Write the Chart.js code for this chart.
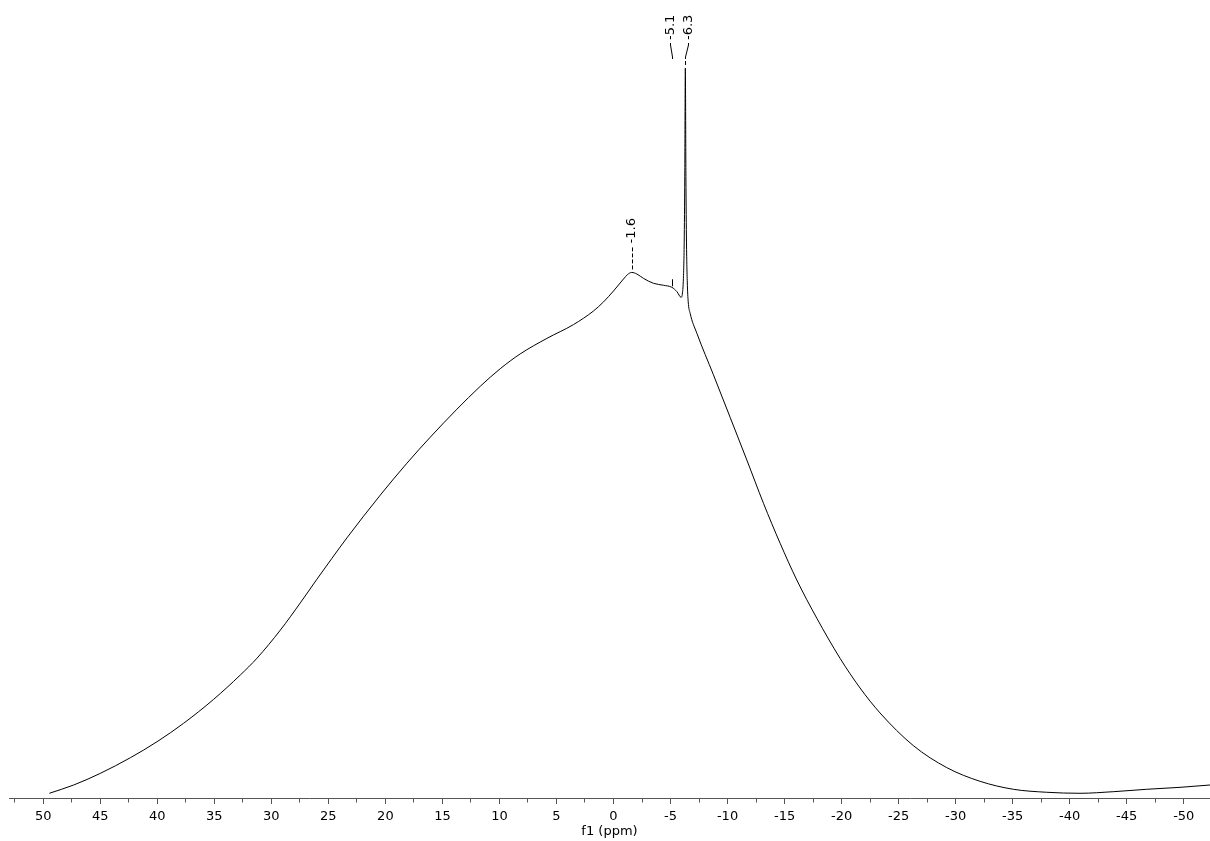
<!DOCTYPE html>
<html>
<head>
<meta charset="utf-8">
<title>f1 (ppm)</title>
<script src="https://cdn.jsdelivr.net/npm/chart.js@4.4.1/dist/chart.umd.min.js"></script>
<style>
  html, body { margin: 0; padding: 0; background: #ffffff; }
  #wrap { width: 1210px; height: 841px; }
</style>
</head>
<body>
<div id="wrap"><canvas id="spectrum" width="1210" height="841"></canvas></div>
<script>
/************************************ Spectrum data ************************************/
// chemical shift in ppm (left to right on the plot)
var shiftPpm = [
  49.46, 47.33, 44.99, 42.36, 40.02, 37.69, 35.06, 32.72, 31.25, 29.21,
  27.46, 26.0, 24.68, 23.37, 20.45, 18.11, 16.06, 13.72, 11.68, 9.93,
  8.18, 5.84, 3.51, 1.75, 0.88, 0.0, -0.88, -1.25, -1.6, -2.05,
  -2.63, -3.51, -4.38, -5.12, -5.56, -5.93, -6.05, -6.13, -6.2, -6.25,
  -6.3, -6.35, -6.4, -6.47, -6.55, -6.72, -7.31, -8.76, -10.23, -11.69,
  -13.15, -14.61, -16.07, -17.83, -19.87, -21.62, -23.37, -26.29, -29.22, -32.14,
  -35.06, -37.98, -40.9, -43.82, -46.75, -49.67, -52.3
];
// intensity (arbitrary units, tallest peak = 100)
var intensity = [
  0.03, 1.17, 2.78, 4.93, 7.14, 9.68, 12.98, 16.33, 18.66, 22.52,
  26.27, 29.54, 32.43, 35.24, 41.12, 45.53, 49.12, 52.98, 56.13, 58.55,
  60.59, 62.73, 64.63, 66.51, 67.75, 69.26, 70.92, 71.55, 71.82, 71.6,
  71.0, 70.32, 70.05, 69.77, 69.17, 68.39, 69.0, 71.0, 76.0, 85.0,
  100, 85.0, 76.0, 70.5, 67.8, 66.19, 63.43, 57.72, 51.84, 45.97,
  40.0, 34.49, 29.43, 24.15, 18.62, 14.54, 11.1, 6.6, 3.57, 1.68,
  0.58, 0.17, 0.03, 0.25, 0.58, 0.85, 1.17
];
// picked peaks
var peakShift = [-1.6, -5.1, -6.3];
var peakText = ["-1.6", "-5.1", "-6.3"];
// axis ticks (labelled and unlabelled)
var majorTicks = [50, 45, 40, 35, 30, 25, 20, 15, 10, 5, 0, -5, -10, -15, -20, -25, -30, -35, -40, -45, -50];
var minorTicks = [52.5, 47.5, 42.5, 37.5, 32.5, 27.5, 22.5, 17.5, 12.5, 7.5, 2.5, -2.5, -7.5, -12.5, -17.5, -22.5, -27.5, -32.5, -37.5, -42.5, -47.5];

var points = [];
for (var i = 0; i < shiftPpm.length; i++) {
  points.push({ x: shiftPpm[i], y: intensity[i] });
}

function isMajor(v) {
  return majorTicks.indexOf(v) >= 0;
}

// linear lookup of the curve height at a shift
function curveAt(ppm) {
  for (var i = 0; i < shiftPpm.length - 1; i++) {
    var a = shiftPpm[i], b = shiftPpm[i + 1];
    if (ppm <= a && ppm >= b) {
      var t = (a - ppm) / (a - b);
      return intensity[i] + t * (intensity[i + 1] - intensity[i]);
    }
  }
  return 0;
}

/************************************ Peak label plugin ************************************/
// dx: shift of the text from the peak, top: label sits in the top row with the tallest peak
var labelLook = [
  { dx: -1.5, top: false, tick: false },
  { dx: -2.5, top: true, tick: true },
  { dx: 2, top: true, tick: false },
];

var peakLabels = {
  id: "peakLabels",
  afterDatasetsDraw: function (chart) {
    var ctx = chart.ctx;
    var xs = chart.scales.x;
    var ys = chart.scales.y;
    var topY = ys.getPixelForValue(Math.max.apply(null, intensity)) - 28;

    ctx.save();
    ctx.strokeStyle = "#000";
    ctx.fillStyle = "#000";
    ctx.lineWidth = 1;
    ctx.font = "13px 'DejaVu Sans'";
    for (var i = 0; i < peakShift.length; i++) {
      var look = labelLook[i];
      var px = Math.round(xs.getPixelForValue(peakShift[i])) + 0.5;
      var py = ys.getPixelForValue(curveAt(peakShift[i]));
      var baseY = look.top ? topY : py - 29;
      var lx = Math.round(px + look.dx) + 0.5;

      // rotated text, reading upward
      ctx.save();
      ctx.translate(lx + 0.5, baseY);
      ctx.rotate(-Math.PI / 2);
      ctx.textAlign = "left";
      ctx.textBaseline = "middle";
      ctx.fillText(peakText[i], 0, 0);
      ctx.restore();

      if (look.top) {
        // bent leader from the label down to the peak position
        ctx.setLineDash([]);
        ctx.beginPath();
        ctx.moveTo(lx, baseY + 3);
        ctx.lineTo(lx, baseY + 5);
        ctx.lineTo(px, baseY + 17);
        ctx.lineTo(px, baseY + 19);
        ctx.stroke();
        if (look.tick) {
          ctx.beginPath();
          ctx.moveTo(px, py - 8);
          ctx.lineTo(px, py - 1);
          ctx.stroke();
        } else {
          ctx.setLineDash([4, 2]);
          ctx.beginPath();
          ctx.moveTo(px, baseY + 21);
          ctx.lineTo(px, py - 2);
          ctx.stroke();
        }
      } else {
        ctx.setLineDash([4, 2]);
        ctx.beginPath();
        ctx.moveTo(px, baseY + 4);
        ctx.lineTo(px, py - 2);
        ctx.stroke();
      }
    }
    ctx.restore();
  },
};

/************************************ Chart ************************************/
Chart.defaults.font.family = "'DejaVu Sans', Verdana, sans-serif";
Chart.defaults.font.size = 13;

var ctx = document.getElementById("spectrum").getContext("2d");
var chart = new Chart(ctx, {
  type: "line",
  data: {
    datasets: [
      {
        label: "spectrum",
        data: points,
        borderColor: "#000000",
        borderWidth: 1,
        pointRadius: 0,
        fill: false,
        cubicInterpolationMode: "monotone",
      },
    ],
  },
  options: {
    responsive: false,
    animation: false,
    layout: { padding: { left: 9, right: 0, top: 0, bottom: 0 } },
    plugins: {
      legend: { display: false },
      tooltip: { enabled: false },
    },
    scales: {
      x: {
        type: "linear",
        reverse: true,
        bounds: "data",
        min: -52.3,
        max: 53.0,
        // use the tick lists above instead of generated ones (left to right)
        afterBuildTicks: function (axis) {
          var all = majorTicks.concat(minorTicks).sort(function (a, b) {
            return b - a;
          });
          axis.ticks = all.map(function (v) {
            return { value: v };
          });
        },
        border: { display: true, color: "#555555", width: 1 },
        grid: {
          drawOnChartArea: false,
          tickLength: 6,
          tickColor: "#555555",
          // minor ticks are drawn shorter with a dash
          tickBorderDash: function (c) {
            return c.tick && isMajor(c.tick.value) ? [] : [3.5, 20];
          },
        },
        ticks: {
          autoSkip: false,
          maxRotation: 0,
          padding: 0,
          color: "#000000",
          font: { size: 13, lineHeight: 2 },
          callback: function (value) {
            return isMajor(value) ? String(value) : "";
          },
        },
        title: {
          display: true,
          text: "f1 (ppm)",
          color: "#000000",
          font: { size: 13, lineHeight: 1 },
          padding: { top: -5, bottom: 3 },
        },
      },
      y: {
        display: false,
        min: -0.62,
        max: 109.37,
      },
    },
  },
  plugins: [peakLabels],
});
</script>
</body>
</html>
